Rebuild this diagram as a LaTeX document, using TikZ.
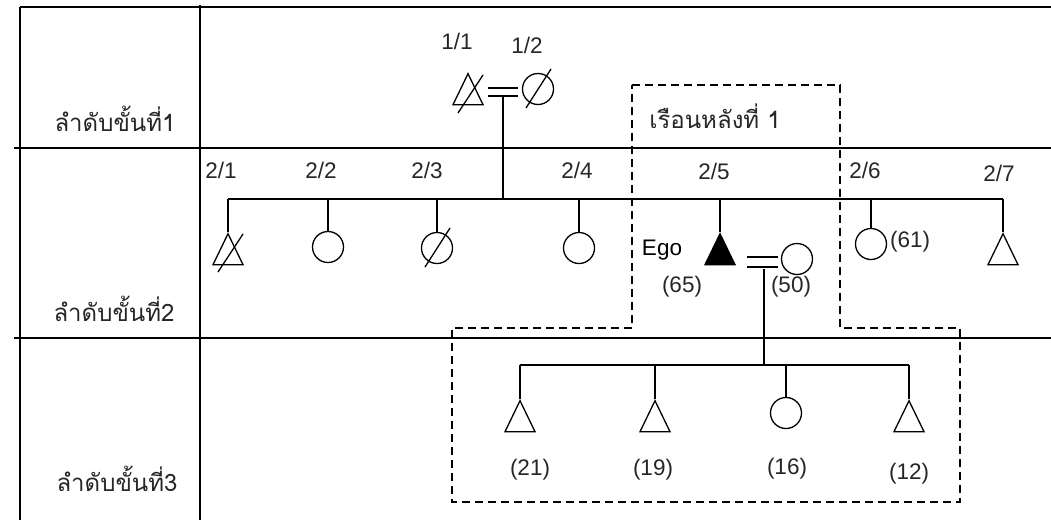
\documentclass[tikz,border=0pt]{standalone}
\usepackage{fontspec}
\setmainfont{Liberation Sans}
\newfontfamily\thaifont[Script=Thai]{Loma}
\usetikzlibrary{shapes.geometric,calc}
\begin{document}
\begin{tikzpicture}[x=1pt,y=-1pt,
  tbl/.style={line width=1.6pt},
  ln/.style={line width=1.3pt},
  male/.style={draw, line width=1.3pt, isosceles triangle, isosceles triangle stretches, shape border rotate=90, minimum width=30pt, minimum height=31pt, inner sep=0pt, anchor=apex},
  female/.style={draw, line width=1.3pt, circle, minimum size=31pt, inner sep=0pt},
  lbl/.style={font=\fontsize{22.5}{26}\selectfont, inner sep=0pt, text=black!85},
  rowlbl/.style={font=\thaifont\fontsize{24}{28}\selectfont, inner sep=0pt, text=black!85},
  house/.style={line width=1.3pt, dash pattern=on 8pt off 5pt}
]
\useasboundingbox (0,0) rectangle (1051,520);
% table
\draw[tbl] (20,7) -- (1051,7);
\draw[tbl] (20,7) -- (20,520);
\draw[tbl] (200,5) -- (200,520);
\draw[tbl] (14,148) -- (1051,148);
\draw[tbl] (14,338) -- (1051,338);
\node[rowlbl] (r1) at (115,119) {ลำดับขั้นที่1};
\node[rowlbl] (r2) at (114,309) {ลำดับขั้นที่2};
\node[rowlbl] (r3) at (117,479) {ลำดับขั้นที่3};

% house 1
\draw[house] (632,85) -- (840,85) -- (840,328) -- (960,328) -- (960,502) -- (452,502) -- (452,328) -- (632,328) -- cycle;
\node[rowlbl] (h1) at (715,116) {เรือนหลังที่ 1};

% generation 1
\node[male] (p11) at (468,72) {};
\draw[ln] ($(p11.apex)+(-10,41)$) -- ($(p11.apex)+(15,3)$);
\node[female] (p12) at (538,89) {};
\draw[ln] ($(p12.center)+(-12,19)$) -- ($(p12.center)+(13,-20)$);
\coordinate (m1a) at (488,88); \coordinate (m1b) at (518,88);
\coordinate (m1c) at (488,96); \coordinate (m1d) at (518,96);
\draw[ln] (m1a) -- (m1b);
\draw[ln] (m1c) -- (m1d);
\coordinate (m1) at (503,96);
\node[lbl] (l11) at (457,41) {1/1};
\node[lbl] (l12) at (527,45) {1/2};

% generation 2
\coordinate (s2L) at (228,199);
\coordinate (s2R) at (1003,199);
\draw[ln] (s2L) -- (s2R);
\draw[ln] (m1) -- (m1 |- s2L);

\node[male] (c21) at (228,232) {};
\draw[ln] ($(c21.apex)+(-10,40)$) -- ($(c21.apex)+(15,2)$);
\node[female] (c22) at (328,247) {};
\node[female] (c23) at (437,248) {};
\draw[ln] ($(c23.center)+(-12,19)$) -- ($(c23.center)+(13,-20)$);
\node[female] (c24) at (579,248) {};
\node[male, fill=black] (ego) at (720,232) {};
\node[female] (c26) at (871,244) {};
\node[male] (c27) at (1003,232) {};

\draw[ln] (c21.apex |- s2L) -- (c21.apex);
\draw[ln] (c22.north |- s2L) -- (c22.north);
\draw[ln] (c23.north |- s2L) -- (c23.north);
\draw[ln] (c24.north |- s2L) -- (c24.north);
\draw[ln] (ego.apex |- s2L) -- (ego.apex);
\draw[ln] (c26.north |- s2L) -- (c26.north);
\draw[ln] (c27.apex |- s2L) -- (c27.apex);

\node[lbl] (l21) at (221,170) {2/1};
\node[lbl] (l22) at (321,170) {2/2};
\node[lbl] (l23) at (427,170) {2/3};
\node[lbl] (l24) at (577,170) {2/4};
\node[lbl] (l25) at (714,171) {2/5};
\node[lbl] (l26) at (865,170) {2/6};
\node[lbl] (l27) at (999,173) {2/7};

\node[female] (wife) at (797,259) {};
\coordinate (m2a) at (747,257); \coordinate (m2b) at (778,257);
\coordinate (m2c) at (747,267); \coordinate (m2d) at (778,267);
\draw[ln] (m2a) -- (m2b);
\draw[ln] (m2c) -- (m2d);
\coordinate (m2) at (764,269);

\node[lbl, text=black] (egol) at (662,250) {Ego};
\node[lbl] (a65) at (682,287) {(65)};
\node[lbl] (a50) at (791,287) {(50)};
\node[lbl] (a61) at (910,242) {(61)};

% generation 3
\coordinate (s3L) at (520,365);
\coordinate (s3R) at (909,365);
\draw[ln] (s3L) -- (s3R);
\draw[ln] (m2) -- (m2 |- s3L);
\node[male] (g1) at (520,399) {};
\node[male] (g2) at (655,399) {};
\node[female] (g3) at (786,413) {};
\node[male] (g4) at (909,399) {};
\draw[ln] (g1.apex |- s3L) -- (g1.apex);
\draw[ln] (g2.apex |- s3L) -- (g2.apex);
\draw[ln] (g3.north |- s3L) -- (g3.north);
\draw[ln] (g4.apex |- s3L) -- (g4.apex);
\node[lbl] (a21) at (530,470) {(21)};
\node[lbl] (a19) at (653,470) {(19)};
\node[lbl] (a16) at (787,469) {(16)};
\node[lbl] (a12) at (909,474) {(12)};
\end{tikzpicture}
\end{document}
